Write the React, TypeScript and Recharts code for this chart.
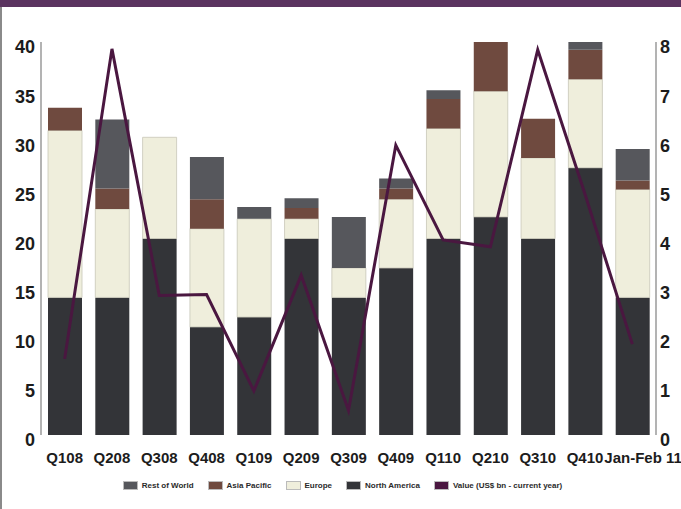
import React from "react";
import {
  Bar,
  ComposedChart,
  Legend,
  Line,
  XAxis,
  YAxis,
} from "recharts";

const quarters = [
  "Q108", "Q208", "Q308", "Q408", "Q109", "Q209", "Q309",
  "Q409", "Q110", "Q210", "Q310", "Q410", "Jan-Feb 11",
];

// deal counts by region (stacked, left axis)
const northAmerica = [14, 14, 20, 11, 12, 20, 14, 17, 20, 22.2, 20, 27.2, 14];
const europe = [17, 9, 10.3, 10, 10, 2, 3, 7, 11.2, 12.8, 8.2, 9, 11];
const asiaPacific = [2.3, 2.1, 0, 3, 0, 1.1, 0, 1.1, 3, 5.5, 4, 3, 0.9];
const restOfWorld = [0, 7, 0, 4.3, 1.2, 1, 5.2, 1, 0.9, 0, 0, 1.5, 3.2];

// value in US$ bn (right axis)
const value = [1.55, 7.86, 2.84, 2.86, 0.9, 3.25, 0.5, 5.9, 3.97, 3.83, 7.84, 4.9, 1.85];

const leftTicks = [0, 5, 10, 15, 20, 25, 30, 35, 40];
const rightTicks = [0, 1, 2, 3, 4, 5, 6, 7, 8];

const colors = {
  na: "#333438",
  eu: "#efeedc",
  ap: "#6f4a3f",
  row: "#56575c",
  line: "#4a1740",
};

const legendItems = [
  { label: "Rest of World", color: colors.row },
  { label: "Asia Pacific", color: colors.ap },
  { label: "Europe", color: colors.eu },
  { label: "North America", color: colors.na },
  { label: "Value (US$ bn - current year)", color: colors.line },
];

const data = quarters.map((q, i) => ({
  quarter: q,
  na: northAmerica[i],
  eu: europe[i],
  ap: asiaPacific[i],
  row: restOfWorld[i],
  value: value[i],
}));

const labelFont = "'Liberation Sans', Arial, sans-serif";

function QuarterTick(props: any) {
  const { x, payload, index } = props;
  const last = index === quarters.length - 1;
  return (
    <text
      x={last ? x - 28 : x}
      y={463}
      textAnchor={last ? "start" : "middle"}
      fill="#1c1c1c"
      fontFamily={labelFont}
      fontWeight="bold"
      fontSize={15}
    >
      {payload.value}
    </text>
  );
}

function LegendBox() {
  return (
    <div
      style={{
        display: "flex",
        justifyContent: "center",
        alignItems: "center",
        fontFamily: labelFont,
        fontSize: 8,
        fontWeight: "bold",
        color: "#2a2a2a",
        paddingLeft: 18,
      }}
    >
      {legendItems.map((item) => (
        <div
          key={item.label}
          style={{
            display: "flex",
            alignItems: "center",
            marginRight: 14,
          }}
        >
          <span
            style={{
              display: "inline-block",
              width: 15,
              height: 9,
              background: item.color,
              border: "1px solid #bbb",
              boxSizing: "border-box",
              marginRight: 4,
            }}
          />
          {item.label}
        </div>
      ))}
    </div>
  );
}

export default function App() {
  return (
    <div
      style={{
        position: "absolute",
        left: 0,
        top: 0,
        width: 681,
        height: 509,
        background: "#fff",
        overflow: "hidden",
      }}
    >
      <div
        style={{
          position: "absolute",
          left: 0,
          top: 0,
          width: 681,
          height: 7,
          background: "#5b3460",
        }}
      />
      <div
        style={{
          position: "absolute",
          left: 0,
          top: 7,
          width: 2,
          height: 502,
          background: "#8a8a8a",
        }}
      />
      <ComposedChart
        width={681}
        height={509}
        data={data}
        margin={{ top: 42, right: 0, bottom: 8, left: 0 }}
        barCategoryGap={0}
        style={{ position: "absolute", left: 0, top: 0 }}
      >
        <XAxis
          dataKey="quarter"
          interval={0}
          axisLine={false}
          tickLine={false}
          height={46}
          tick={<QuarterTick />}
        />
        <YAxis
          yAxisId="left"
          orientation="left"
          width={41}
          domain={[0, 40]}
          ticks={leftTicks}
          allowDataOverflow
          axisLine={{ stroke: "#9a9a9a", strokeWidth: 1.5 }}
          tickLine={false}
          tickSize={6}
          tickMargin={0}
          tick={{
            fill: "#1c1c1c",
            fontFamily: labelFont,
            fontWeight: "bold",
            fontSize: 18,
            dy: 5,
          }}
        />
        <YAxis
          yAxisId="right"
          orientation="right"
          width={25}
          domain={[0, 8]}
          ticks={rightTicks}
          axisLine={{ stroke: "#9a9a9a", strokeWidth: 1.5 }}
          tickLine={false}
          tickSize={4}
          tickMargin={0}
          tick={{
            fill: "#1c1c1c",
            fontFamily: labelFont,
            fontWeight: "bold",
            fontSize: 18,
            dy: 5,
          }}
        />
        <Legend
          verticalAlign="bottom"
          height={20}
          content={() => <LegendBox />}
          wrapperStyle={{ bottom: 8 }}
        />
        <Bar yAxisId="left" dataKey="na" name="North America" stackId="s" fill={colors.na} barSize={34} isAnimationActive={false} />
        <Bar yAxisId="left" dataKey="eu" name="Europe" stackId="s" fill={colors.eu} stroke="#c8c6b8" strokeWidth={0.8} barSize={34} isAnimationActive={false} />
        <Bar yAxisId="left" dataKey="ap" name="Asia Pacific" stackId="s" fill={colors.ap} barSize={34} isAnimationActive={false} />
        <Bar yAxisId="left" dataKey="row" name="Rest of World" stackId="s" fill={colors.row} barSize={34} isAnimationActive={false} />
        <Line
          yAxisId="right"
          type="linear"
          dataKey="value"
          name="Value (US$ bn - current year)"
          stroke={colors.line}
          strokeWidth={3}
          dot={false}
          isAnimationActive={false}
        />
      </ComposedChart>
    </div>
  );
}
